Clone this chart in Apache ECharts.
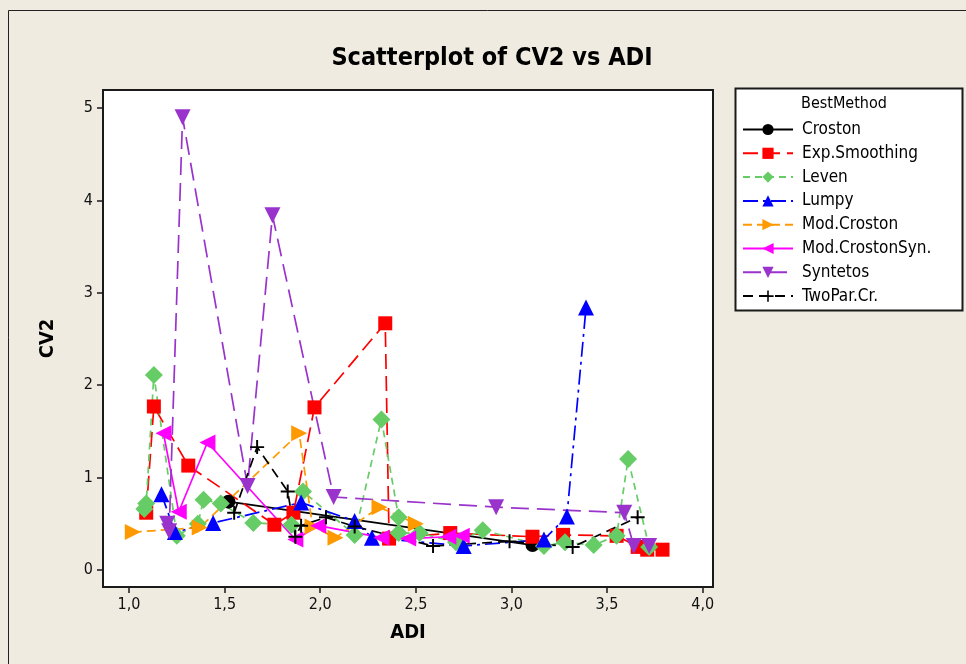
<!DOCTYPE html>
<html>
<head>
<meta charset="utf-8">
<script src="https://cdn.jsdelivr.net/npm/echarts@6/dist/echarts.min.js"></script>
<style>
  html, body { margin: 0; padding: 0; background: #EFEBE1; }
  #chart { width: 966px; height: 664px; }
</style>
</head>
<body>
<div id="chart"></div>
<script>
// ADI / CV2 pairs per best-performing method, in ADI order
const croston       = [[1.52, 0.74], [3.11, 0.27]];
const expSmoothing  = [[1.09, 0.62], [1.13, 1.77], [1.31, 1.13], [1.76, 0.49], [1.86, 0.62], [1.97, 1.76],
                       [2.34, 2.67], [2.36, 0.34], [2.68, 0.40], [3.11, 0.36], [3.27, 0.38], [3.55, 0.37],
                       [3.66, 0.25], [3.71, 0.22], [3.79, 0.22]];
const leven         = [[1.08, 0.66], [1.09, 0.72], [1.13, 2.11], [1.25, 0.37], [1.36, 0.50], [1.39, 0.76],
                       [1.48, 0.72], [1.65, 0.51], [1.85, 0.49], [1.91, 0.85], [2.18, 0.38], [2.32, 1.63],
                       [2.41, 0.57], [2.41, 0.40], [2.52, 0.40], [2.71, 0.30], [2.85, 0.43], [3.17, 0.26],
                       [3.28, 0.30], [3.43, 0.27], [3.55, 0.37], [3.61, 1.20], [3.72, 0.25]];
const lumpy         = [[1.17, 0.82], [1.24, 0.41], [1.44, 0.51], [1.90, 0.73], [2.18, 0.53], [2.27, 0.35],
                       [2.75, 0.26], [3.17, 0.33], [3.29, 0.58], [3.39, 2.84]];
const modCroston    = [[1.02, 0.41], [1.37, 0.46], [1.89, 1.48], [1.96, 0.47], [2.08, 0.35], [2.31, 0.68],
                       [2.50, 0.50]];
const modCrostonSyn = [[1.18, 1.48], [1.26, 0.63], [1.41, 1.38], [1.87, 0.33], [1.99, 0.48], [2.32, 0.35],
                       [2.46, 0.34], [2.67, 0.36], [2.74, 0.37]];
const syntetos      = [[1.20, 0.50], [1.21, 0.42], [1.28, 4.90], [1.62, 0.91], [1.75, 3.84], [2.07, 0.79],
                       [2.92, 0.68], [3.59, 0.62], [3.64, 0.26], [3.72, 0.26]];
const twoParCr      = [[1.55, 0.62], [1.67, 1.33], [1.83, 0.85], [1.87, 0.36], [1.90, 0.48], [2.03, 0.57],
                       [2.18, 0.47], [2.59, 0.26], [2.99, 0.31], [3.32, 0.25], [3.66, 0.57]];

const xTicks = [1.0, 1.5, 2.0, 2.5, 3.0, 3.5, 4.0];
const yTicks = [0, 1, 2, 3, 4, 5];

const FONT = "'DejaVu Sans Condensed', 'DejaVu Sans', sans-serif";
// thin plus sign used for the TwoPar.Cr. points
const PLUS = 'path://M0,4.3H10V5.7H0Z M4.3,0H5.7V10H4.3Z';

function mk(name, data, color, dash, symbol, size, rotate) {
  return {
    name: name,
    type: 'line',
    data: data,
    symbol: symbol,
    symbolSize: size,
    symbolRotate: rotate || 0,
    showSymbol: true,
    animation: false,
    itemStyle: { color: color, opacity: 1 },
    lineStyle: { color: color, width: 1.7, type: dash },
    emphasis: { disabled: true }
  };
}

const chart = echarts.init(document.getElementById('chart'));
chart.setOption({
  backgroundColor: '#EFEBE1',
  animation: false,
  grid: {
    left: 103, right: 253, top: 90, bottom: 77,
    show: true, backgroundColor: '#ffffff', borderColor: '#1a1a1a', borderWidth: 2
  },
  xAxis: {
    type: 'value', min: 0.864, max: 4.054,
    name: 'ADI', nameLocation: 'middle', nameGap: 36,
    nameTextStyle: { fontFamily: FONT, fontWeight: 'bold', fontSize: 20, color: '#000' },
    splitLine: { show: false },
    axisLine: { show: true, onZero: false, lineStyle: { color: '#1a1a1a', width: 2 } },
    axisTick: { show: true, customValues: xTicks, length: 6, lineStyle: { color: '#1a1a1a', width: 1.5 } },
    axisLabel: {
      customValues: xTicks, margin: 10, fontFamily: FONT, fontSize: 16, color: '#111',
      formatter: v => v.toFixed(1).replace('.', ',')
    }
  },
  yAxis: {
    type: 'value', min: -0.184, max: 5.195,
    name: 'CV2', nameLocation: 'middle', nameGap: 45,
    nameTextStyle: { fontFamily: FONT, fontWeight: 'bold', fontSize: 20, color: '#000' },
    splitLine: { show: false },
    axisLine: { show: true, onZero: false, lineStyle: { color: '#1a1a1a', width: 2 } },
    axisTick: { show: true, customValues: yTicks, length: 6, lineStyle: { color: '#1a1a1a', width: 1.5 } },
    axisLabel: {
      customValues: yTicks, margin: 10, fontFamily: FONT, fontSize: 16, color: '#111',
      formatter: v => String(Math.round(v))
    }
  },
  legend: {
    orient: 'vertical', left: 742, top: 121, padding: 0,
    itemWidth: 50, itemHeight: 14, itemGap: 6.8,
    textStyle: { fontFamily: FONT, fontSize: 17, color: '#000', padding: [0, 0, 0, 4] },
    selectedMode: false
  },
  graphic: [
    { type: 'rect', shape: { x: 8.5, y: 10.5, width: 1200, height: 1000 },
      style: { fill: 'none', stroke: '#222', lineWidth: 1 }, z: -1, silent: true },
    { type: 'rect', shape: { x: 735.5, y: 88.5, width: 227, height: 222 },
      style: { fill: '#ffffff', stroke: '#1a1a1a', lineWidth: 2 }, z: -1, silent: true },
    { type: 'text', x: 492, y: 58,
      style: { text: 'Scatterplot of CV2 vs ADI', font: "bold 25px " + FONT, fill: '#000',
               textAlign: 'center', textVerticalAlign: 'middle' } },
    { type: 'text', x: 801, y: 104,
      style: { text: 'BestMethod', font: "16px " + FONT, fill: '#000',
               textAlign: 'left', textVerticalAlign: 'middle' } }
  ],
  series: [
    mk('Croston', croston, '#000000', 'solid', 'circle', 14),
    mk('Exp.Smoothing', expSmoothing, '#FF0000', [15, 7], 'rect', 14),
    mk('Leven', leven, '#66CC66', [7, 5], 'diamond', 18),
    mk('Lumpy', lumpy, '#0000FF', [15, 5, 3, 5], 'triangle', 16),
    mk('Mod.Croston', modCroston, '#FF9900', [9, 5], 'triangle', 16, -90),
    mk('Mod.CrostonSyn.', modCrostonSyn, '#FF00FF', 'solid', 'triangle', 16, 90),
    mk('Syntetos', syntetos, '#9933CC', [18, 8], 'triangle', 16, 180),
    mk('TwoPar.Cr.', twoParCr, '#000000', [10, 6], PLUS, 14)
  ]
});
</script>
</body>
</html>
